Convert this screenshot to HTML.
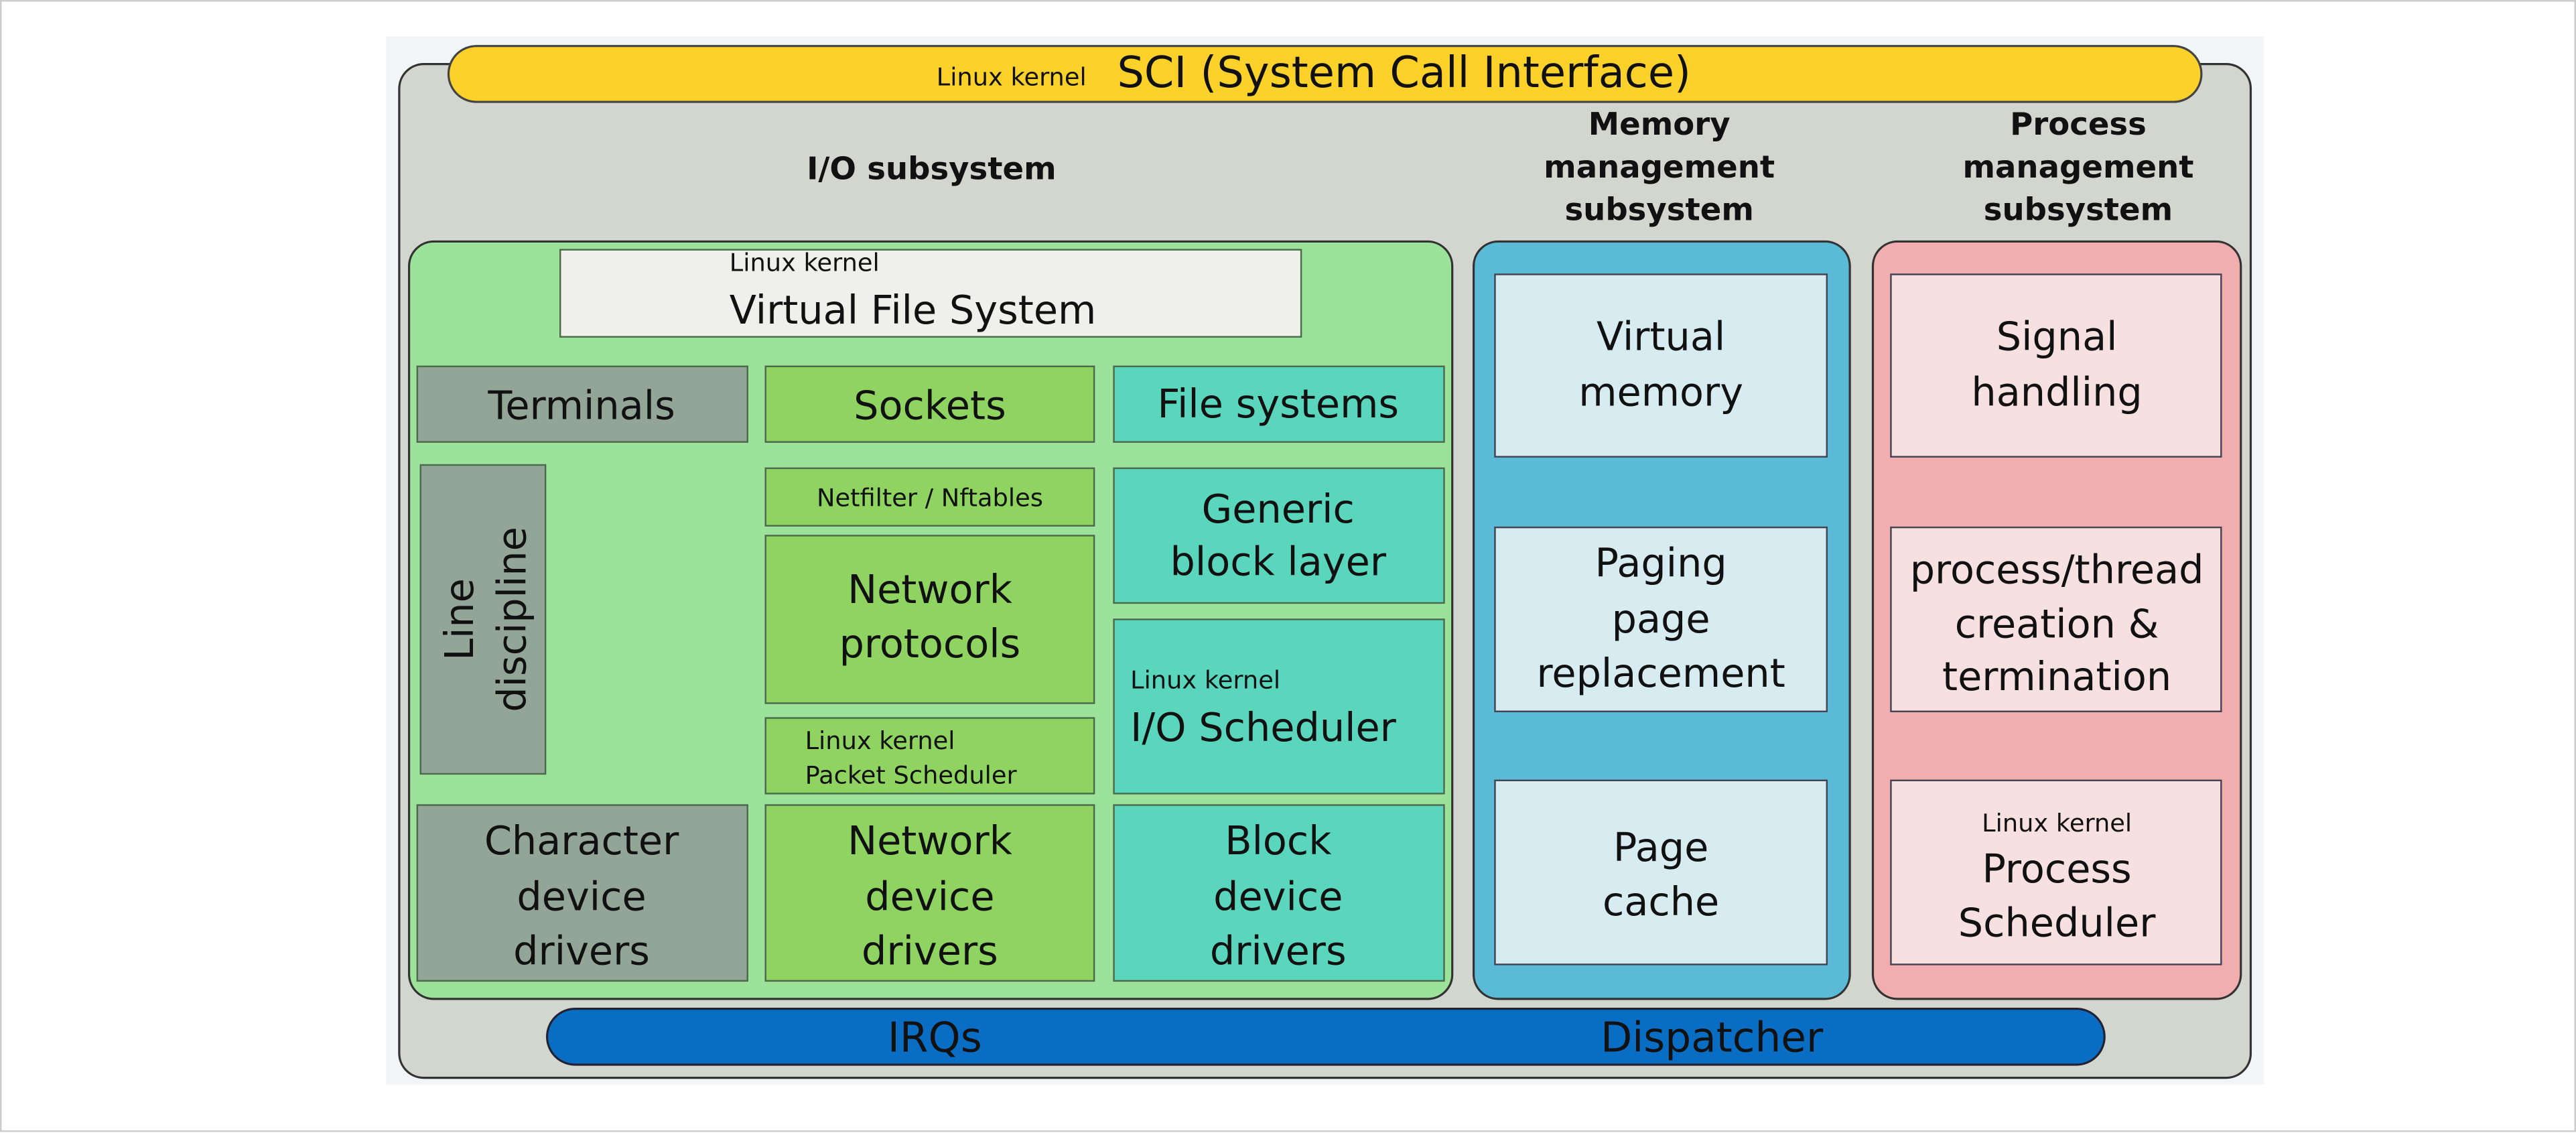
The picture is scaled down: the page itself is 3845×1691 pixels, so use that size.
<!DOCTYPE html>
<html><head><meta charset="utf-8"><style>html,body{margin:0;padding:0;background:#fff}svg{display:block}text{font-family:"DejaVu Sans","Liberation Sans",sans-serif;fill:#111}</style></head><body>
<svg width="3845" height="1691" viewBox="0 0 1568 689.6" xmlns="http://www.w3.org/2000/svg">
<rect x="0.5" y="0.5" width="1567" height="688" fill="#fff" stroke="#ccc" stroke-width="1"/>
<rect x="235" y="22" width="1143" height="638" fill="#f3f6f9"/>
<rect x="243" y="39" width="1127" height="617" rx="15" fill="#d3d5cf" stroke="#333" stroke-width="1.3"/>
<rect x="273" y="28" width="1067" height="34" rx="17" fill="#fcd22a" stroke="#444" stroke-width="1.3"/>
<text x="570" y="52" font-size="15">Linux kernel</text>
<text x="680" y="53" font-size="26">SCI (System Call Interface)</text>
<g font-weight="bold" font-size="19" text-anchor="middle">
<text x="567" y="109">I/O subsystem</text>
<text x="1010" y="82">Memory</text><text x="1010" y="108">management</text><text x="1010" y="134">subsystem</text>
<text x="1265" y="82">Process</text><text x="1265" y="108">management</text><text x="1265" y="134">subsystem</text>
</g>
<rect x="249" y="147" width="635" height="461" rx="15" fill="#9ce29b" stroke="#333" stroke-width="1.3"/>
<rect x="897" y="147" width="229" height="461" rx="15" fill="#5bbad5" stroke="#333" stroke-width="1.3"/>
<rect x="1140" y="147" width="224" height="461" rx="15" fill="#f2aeae" stroke="#333" stroke-width="1.3"/>
<g stroke="#4c6a4c" stroke-width="1">
<rect x="341" y="152" width="451" height="53" fill="#efefec"/>
<rect x="254" y="223" width="201" height="46" fill="#93a597"/>
<rect x="466" y="223" width="200" height="46" fill="#8fd460"/>
<rect x="678" y="223" width="201" height="46" fill="#5ad6bd"/>
<rect x="256" y="283" width="76" height="188" fill="#93a597"/>
<rect x="466" y="285" width="200" height="35" fill="#8fd460"/>
<rect x="466" y="326" width="200" height="102" fill="#8fd460"/>
<rect x="466" y="437" width="200" height="46" fill="#8fd460"/>
<rect x="678" y="285" width="201" height="82" fill="#5ad6bd"/>
<rect x="678" y="377" width="201" height="106" fill="#5ad6bd"/>
<rect x="254" y="490" width="201" height="107" fill="#93a597"/>
<rect x="466" y="490" width="200" height="107" fill="#8fd460"/>
<rect x="678" y="490" width="201" height="107" fill="#5ad6bd"/>
</g>
<g stroke="#445" stroke-width="1">
<rect x="910" y="167" width="202" height="111" fill="#d7ecf1"/>
<rect x="910" y="321" width="202" height="112" fill="#d7ecf1"/>
<rect x="910" y="475" width="202" height="112" fill="#d7ecf1"/>
<rect x="1151" y="167" width="201" height="111" fill="#f6e0e0"/>
<rect x="1151" y="321" width="201" height="112" fill="#f6e0e0"/>
<rect x="1151" y="475" width="201" height="112" fill="#f6e0e0"/>
</g>
<rect x="333" y="614" width="948" height="34" rx="17" fill="#0a6dc4" stroke="#223" stroke-width="1.3"/>
<text x="569" y="640" font-size="25" text-anchor="middle">IRQs</text>
<text x="1042" y="640" font-size="25" text-anchor="middle">Dispatcher</text>
<text x="444" y="165" font-size="15">Linux kernel</text>
<text x="444" y="197" font-size="24">Virtual File System</text>
<g font-size="24" text-anchor="middle">
<text x="354" y="255">Terminals</text>
<text x="566" y="255">Sockets</text>
<text x="778" y="254">File systems</text>
<text x="566" y="367">Network</text><text x="566" y="400">protocols</text>
<text x="778" y="318">Generic</text><text x="778" y="350">block layer</text>
<text x="354" y="520">Character</text><text x="354" y="554">device</text><text x="354" y="587">drivers</text>
<text x="566" y="520">Network</text><text x="566" y="554">device</text><text x="566" y="587">drivers</text>
<text x="778" y="520">Block</text><text x="778" y="554">device</text><text x="778" y="587">drivers</text>
<text x="1011" y="213">Virtual</text><text x="1011" y="247">memory</text>
<text x="1011" y="351">Paging</text><text x="1011" y="385">page</text><text x="1011" y="418">replacement</text>
<text x="1011" y="524">Page</text><text x="1011" y="557">cache</text>
<text x="1252" y="213">Signal</text><text x="1252" y="247">handling</text>
<text x="1252" y="355">process/thread</text><text x="1252" y="388">creation &amp;</text><text x="1252" y="420">termination</text>
<text x="1252" y="537">Process</text><text x="1252" y="570">Scheduler</text>
<g transform="translate(294,377) rotate(-90)"><text x="0" y="-6">Line</text><text x="0" y="26">discipline</text></g>
</g>
<text x="566" y="308" font-size="15" text-anchor="middle">Netfilter / Nftables</text>
<text x="490" y="456" font-size="15">Linux kernel</text>
<text x="490" y="477" font-size="15">Packet Scheduler</text>
<text x="688" y="419" font-size="15">Linux kernel</text>
<text x="688" y="451" font-size="24">I/O Scheduler</text>
<text x="1252" y="506" font-size="15" text-anchor="middle">Linux kernel</text>
</svg>
</body></html>
